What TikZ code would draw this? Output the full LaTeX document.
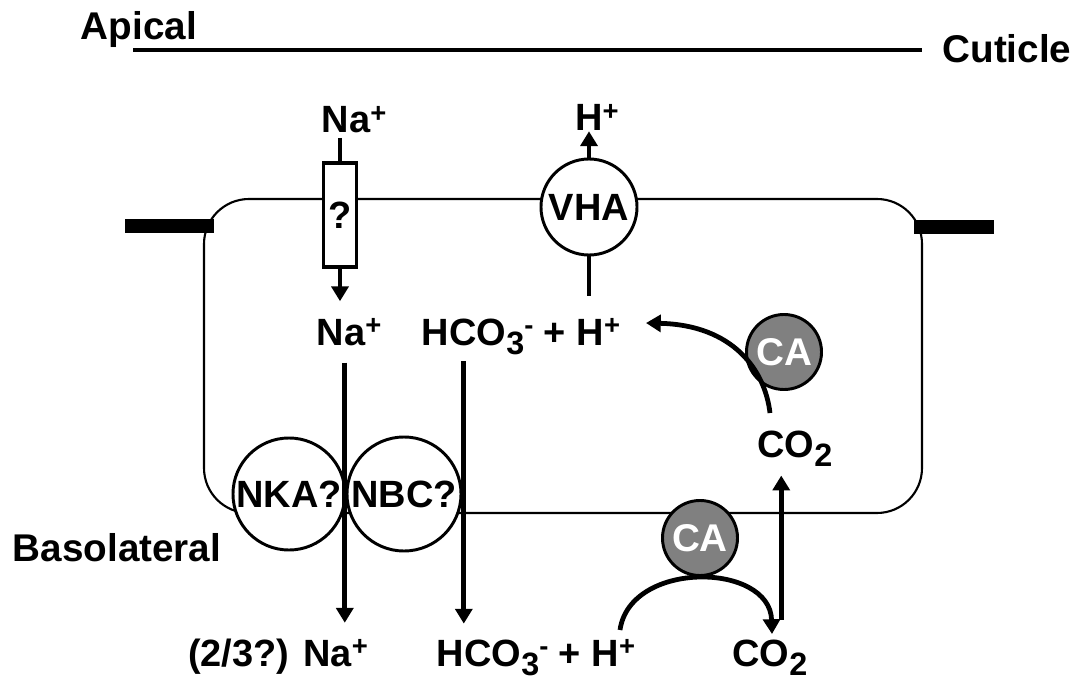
\documentclass[tikz,border=0pt]{standalone}
\usepackage{fontspec}
\setmainfont{Liberation Sans}
\usetikzlibrary{arrows.meta,positioning}
\newcommand{\up}[1]{\raisebox{7.5pt}{\fontsize{19.5}{19.5}\selectfont #1}}
\newcommand{\dn}[1]{\raisebox{-7pt}{\fontsize{23}{23}\selectfont #1}}
\newcommand{\Naion}{Na\up{+}}
\newcommand{\Hion}{H\up{+}}
\newcommand{\Bicarb}{HCO\dn{3}\up{-}}
\newcommand{\Cdiox}{CO\dn{2}}

\begin{document}
\begin{tikzpicture}[
    x=0.025cm, y=-0.025cm,
    txt/.style={font=\bfseries\fontsize{27.5}{30}\selectfont, inner sep=0pt, anchor=base},
    ion/.style={font=\bfseries\fontsize{27}{30}\selectfont, inner sep=0pt, anchor=base},
    pump/.style={circle, draw, line width=2.1pt, fill=white, inner sep=0pt, font=\bfseries\fontsize{27}{30}\selectfont},
    enzyme/.style={circle, draw, line width=2.1pt, fill=black!50, text=white, inner sep=0pt, minimum size=1.875cm, font=\bfseries\fontsize{27.5}{30}\selectfont},
    channel/.style={rectangle, draw, line width=2.8pt, fill=white, minimum width=0.825cm, minimum height=2.6cm, inner sep=0pt, font=\bfseries\fontsize{27}{30}\selectfont},
    arrow/.style={-{Triangle[length=10.5pt,width=12pt]}, line width=3.4pt},
    stem/.style={line width=3.4pt},
    membrane/.style={line width=1.5pt}
]
    \useasboundingbox (0,0) rectangle (1080,683);

    % cuticle and cell
    \draw[line width=2.2pt] (133,50) -- (922,50);
    \draw[membrane, rounded corners=32pt] (204,199) rectangle (922,513);
    \draw[line width=10.5pt] (125,226) -- (214,226);
    \draw[line width=10.5pt] (914,227) -- (994,227);

    \node[txt] (apical) at (139,40) {Apical};
    \node[txt] (cuticle) at (1007,63) {Cuticle};
    \node[txt] (baso) at (117,561) {Basolateral};

    % apical side
    \node[ion] (natop) at (354,133) {\Naion};
    \node[ion] (htop) at (597,131) {\Hion};
    \node[channel] (chan) at (340,215) {?};
    \node[pump, minimum size=2.4cm] (vha) at (589,207) {VHA};

    % cytoplasm
    \node[ion] (nain) at (349,345) {\Naion};
    \node[ion] (bicin) at (521,345) {\Bicarb{} + \Hion};
    \node[ion] (co2in) at (795,457) {\Cdiox};
    \node[enzyme] (caup) at (784,352) {CA};

    % basolateral side
    \node[pump, minimum size=2.8cm] (nka) at (289,494) {NKA?};
    \node[pump, minimum size=2.85cm] (nbc) at (404,494) {NBC?};
    \node[enzyme] (calow) at (700,538) {CA};

    \node[ion] (naout) at (278,666) {(2/3?) \Naion};
    \node[ion] (bicout) at (536,666) {\Bicarb{} + \Hion};
    \node[ion] (co2out) at (770,666) {\Cdiox};

    \coordinate (co2up) at (770,413);
    \coordinate (hback) at (646,323);
    \coordinate (hstart) at (620,630);
    \coordinate (co2tip) at (772,634);

    \draw[stem] (natop.south -| chan.north) ++(0,-3pt) -- (chan.north);
    \draw[arrow, shorten >=12pt] (chan.south) -- (chan.south |- nain.north);
    \draw[arrow] (vha.north) -- (vha.north |- htop.south);
    \draw[stem, shorten >=16pt] (vha.south) -- (vha.south |- bicin.north);

    \draw[arrow, shorten <=12pt, shorten >=11pt] ([xshift=-3pt]nain.south) -- ([xshift=-3pt]nain.south |- naout.north);
    \draw[arrow, shorten <=4pt, shorten >=11pt] ([xshift=30pt]bicin.south west) -- ([xshift=30pt]bicin.south west |- bicout.north);
    \draw[arrow, shorten <=14pt, shorten >=6pt] ([xshift=8pt]co2out.north) -- ([xshift=8pt]co2out.north |- co2in.south);

    \draw[arrow] (co2up) .. controls +(-5,-43) and +(87,2) .. (hback);
    \draw[arrow] (hstart) .. controls +(10,-70) and +(-2,-72) .. (co2tip);
\end{tikzpicture}
\end{document}
